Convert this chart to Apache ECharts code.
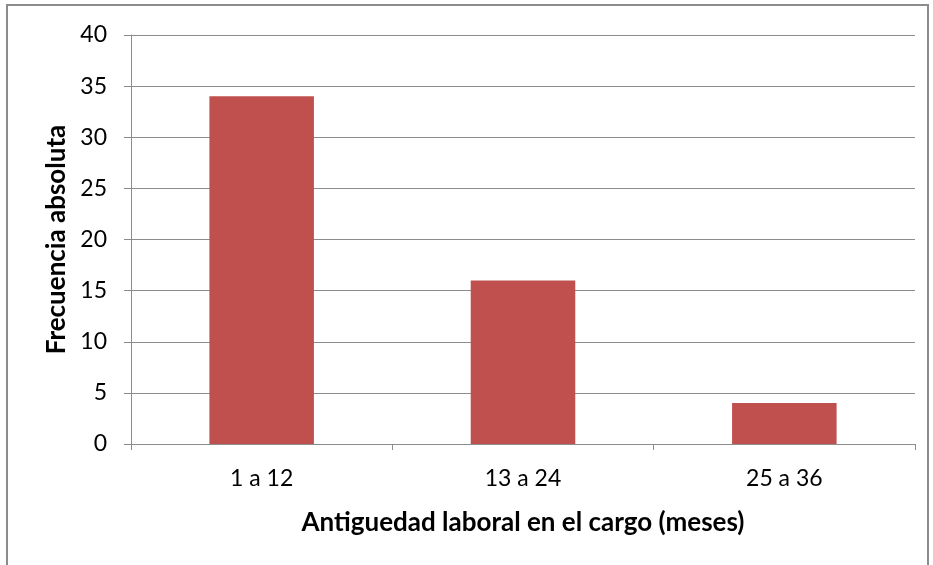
<!DOCTYPE html>
<html>
<head>
<meta charset="utf-8">
<script src="https://cdn.jsdelivr.net/npm/echarts@6/dist/echarts.min.js"></script>
<style>
  html, body { margin: 0; padding: 0; background: #fff; }
  #chart { width: 933px; height: 565px; }
</style>
</head>
<body>
<div id="chart"></div>
<script>
// datos del gráfico
const categories = ['1 a 12', '13 a 24', '25 a 36']
const frecuencias = [34, 16, 4]
const yTicks = { min: 0, max: 40, interval: 5 }

const chart = echarts.init(document.getElementById('chart'))
const font = 'Lato'
chart.setOption({
  animation: false,
  graphic: [{
    type: 'rect',
    shape: { x: 7, y: 5, width: 921, height: 580 },
    style: { fill: 'none', stroke: '#8c8c8c', lineWidth: 2 }
  }],
  grid: { left: 131, top: 35, right: 18, bottom: 121 },
  xAxis: {
    type: 'category',
    data: categories,
    name: 'Antiguedad laboral en el cargo (meses)',
    nameLocation: 'middle',
    nameGap: 66,
    nameTextStyle: { fontFamily: font, fontSize: 26, fontWeight: 'bold', color: '#000' },
    axisLine: { lineStyle: { color: '#8c8c8c', width: 1 } },
    axisTick: { show: true, length: 6, alignWithLabel: false, lineStyle: { color: '#8c8c8c' } },
    axisLabel: { fontFamily: font, fontSize: 23, color: '#000', margin: 23 }
  },
  yAxis: {
    type: 'value',
    min: yTicks.min,
    max: yTicks.max,
    interval: yTicks.interval,
    name: 'Frecuencia absoluta',
    nameLocation: 'middle',
    nameGap: 60,
    nameTextStyle: { fontFamily: font, fontSize: 26, fontWeight: 'bold', color: '#000' },
    axisLine: { show: true, lineStyle: { color: '#8c8c8c', width: 1 } },
    axisTick: { show: true, length: 7, lineStyle: { color: '#8c8c8c' } },
    axisLabel: { fontFamily: font, fontSize: 23, color: '#000', margin: 24 },
    splitLine: { lineStyle: { color: '#8c8c8c', width: 1 } }
  },
  series: [{
    type: 'bar',
    data: frecuencias,
    barWidth: '40%',
    itemStyle: { color: '#C0504D' }
  }]
})
</script>
</body>
</html>
